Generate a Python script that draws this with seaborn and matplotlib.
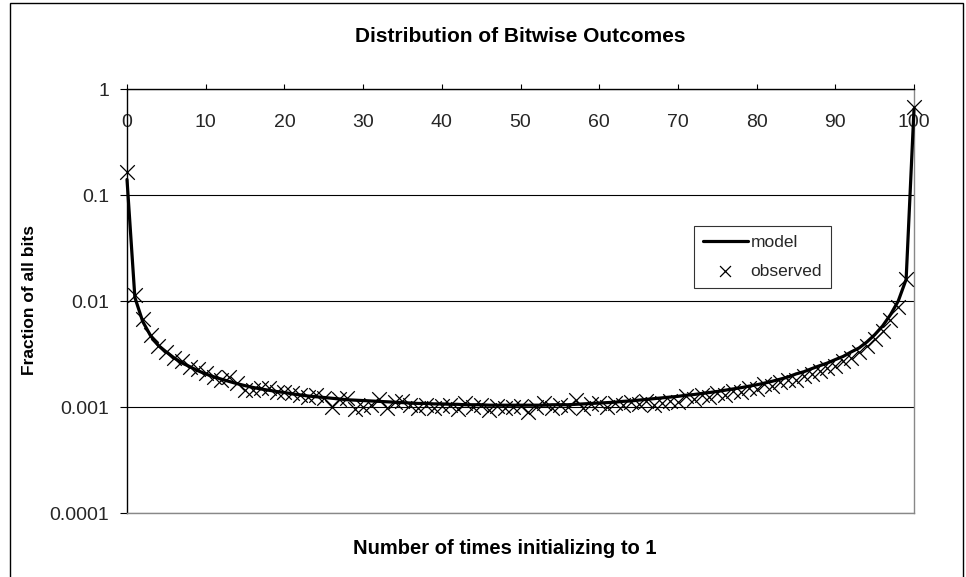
import matplotlib
matplotlib.use("Agg")
import matplotlib.pyplot as plt
import matplotlib.ticker as mticker
from matplotlib.patches import Rectangle
import seaborn as sns
import pandas as pd

sns.set_theme(style="white")
plt.rcParams['font.family'] = ['Liberation Sans', 'DejaVu Sans']

title = "Distribution of Bitwise Outcomes"
xlabel = "Number of times initializing to 1"
ylabel = "Fraction of all bits"

x_vals = list(range(0, 101))

model = [
    0.14, 0.0108, 0.0064, 0.0047, 0.0038, 0.0033, 0.0029, 0.0026, 0.0024, 0.0022,
    0.00205, 0.00193, 0.00183, 0.00174, 0.00166, 0.00159, 0.00153, 0.00148, 0.00144, 0.0014,
    0.00137, 0.00133, 0.0013, 0.00127, 0.00125, 0.00123, 0.00121, 0.00119, 0.00117, 0.00116,
    0.00115, 0.00114, 0.00113, 0.00112, 0.00111, 0.0011, 0.00109, 0.00108, 0.00108, 0.00107,
    0.00107, 0.00106, 0.00106, 0.00105, 0.00105, 0.00105, 0.00104, 0.00104, 0.00104, 0.00104,
    0.00104, 0.00104, 0.00104, 0.00104, 0.00105, 0.00105, 0.00105, 0.00106, 0.00107, 0.00108,
    0.00109, 0.0011, 0.00111, 0.00113, 0.00114, 0.00116, 0.00118, 0.0012, 0.00122, 0.00124,
    0.00126, 0.00129, 0.00131, 0.00134, 0.00137, 0.0014, 0.00144, 0.00148, 0.00152, 0.00157,
    0.00162, 0.00168, 0.00175, 0.00183, 0.00192, 0.00205, 0.00215, 0.0023, 0.00245, 0.0026,
    0.0028, 0.0030, 0.0033, 0.0036, 0.0041, 0.0048, 0.0058, 0.0074, 0.0100, 0.0160,
    0.65,
]

observed = [
    0.165, 0.0114, 0.0068, 0.0048, 0.0038, 0.0033, 0.0029, 0.0027, 0.0024, 0.0023,
    0.0021, 0.0019, 0.0018, 0.0019, 0.0017, 0.00145, 0.00145, 0.0015, 0.0015, 0.0014,
    0.0014, 0.00135, 0.0013, 0.00125, 0.0013, 0.00122, 0.00100, 0.00118, 0.00122, 0.00095,
    0.00100, 0.00105, 0.00120, 0.00098, 0.00112, 0.00115, 0.00105, 0.00098, 0.00105, 0.00098,
    0.00102, 0.00105, 0.00096, 0.00108, 0.00100, 0.00104, 0.00094, 0.00102, 0.00098, 0.00100,
    0.00103, 0.00090, 0.00100, 0.00108, 0.00097, 0.00104, 0.00100, 0.00116, 0.00098, 0.00106,
    0.00110, 0.00100, 0.00108, 0.00104, 0.00112, 0.00106, 0.00115, 0.00104, 0.00110, 0.00115,
    0.00112, 0.00128, 0.00118, 0.00130, 0.00124, 0.00135, 0.00130, 0.00142, 0.00140, 0.00152,
    0.00148, 0.00165, 0.00158, 0.00172, 0.00180, 0.00178, 0.00195, 0.00205, 0.00220, 0.00235,
    0.00245, 0.0027, 0.0029, 0.0033, 0.0038, 0.0044, 0.0052, 0.0066, 0.0088, 0.0160,
    0.68,
]

x_ticks = [0, 10, 20, 30, 40, 50, 60, 70, 80, 90, 100]
y_ticks = [0.0001, 0.001, 0.01, 0.1, 1]
y_tick_labels = ["0.0001", "0.001", "0.01", "0.1", "1"]

df = pd.DataFrame({"x": x_vals, "model": model, "observed": observed})

W, H = 966, 577
fig = plt.figure(figsize=(W / 100, H / 100), dpi=100)
fig.patch.set_facecolor("white")
L, R, T, B = 127, 914, 89, 513
ax = fig.add_axes([L / W, 1 - B / H, (R - L) / W, (B - T) / H])
ax.set_facecolor("white")

sns.lineplot(data=df, x="x", y="model", ax=ax, color="black", linewidth=2.3,
             label="model", clip_on=False, zorder=3)
sns.scatterplot(data=df, x="x", y="observed", ax=ax, marker="x", color="black",
                s=110, linewidth=0.9, label="observed", clip_on=False, zorder=4)

ax.set_yscale("log")
ax.set_xlim(0, 100)
ax.set_ylim(0.0001, 1)
ax.yaxis.set_major_locator(mticker.FixedLocator(y_ticks))
ax.yaxis.set_major_formatter(mticker.FixedFormatter(y_tick_labels))
ax.yaxis.set_minor_locator(mticker.NullLocator())
ax.xaxis.set_major_locator(mticker.FixedLocator(x_ticks))
ax.xaxis.set_major_formatter(mticker.FixedFormatter([str(v) for v in x_ticks]))

ax.xaxis.tick_top()
ax.tick_params(axis="x", which="major", top=True, bottom=False, labeltop=True,
               labelbottom=False, direction="out", length=3.6, width=0.8,
               color="black", labelsize=14, pad=-33.5)
ax.tick_params(axis="y", which="major", left=True, direction="out", length=5,
               width=0.8, color="black", labelsize=14, pad=8)

ax.yaxis.grid(True, color="black", linewidth=0.8)
ax.xaxis.grid(False)

for side, col in [("top", "black"), ("left", "black"), ("right", "#888888"), ("bottom", "#888888")]:
    ax.spines[side].set_visible(True)
    ax.spines[side].set_color(col)
    ax.spines[side].set_linewidth(1.0)

ax.set_xlabel("")
ax.set_ylabel("")

fig.text((L + R) / 2 / W, 1 - 37 / H, title, ha="center", va="center",
         fontsize=15, fontweight="bold", color="black")
fig.text(505 / W, 1 - 548 / H, xlabel, ha="center", va="center",
         fontsize=14.5, fontweight="bold", color="black")
fig.text(30 / W, 1 - 300 / H, ylabel, ha="center", va="center", rotation=90,
         fontsize=12.5, fontweight="bold", color="black")

leg = ax.legend(loc="upper left", bbox_to_anchor=((694 - L) / (R - L), (B - 226) / (B - T)),
                frameon=True, fancybox=False, fontsize=12.5, handlelength=2.6,
                handletextpad=0.15, borderpad=0.5, labelspacing=0.8, borderaxespad=0,
                markerscale=0.75)
leg.get_frame().set_edgecolor("black")
leg.get_frame().set_linewidth(0.8)

fig.patches.append(Rectangle((10 / W, -0.02), (963 - 10) / W, 1.02 - 3 / H,
                             transform=fig.transFigure, fill=False,
                             edgecolor="black", linewidth=1.0))

fig.savefig("out.png", dpi=100, facecolor="white")
